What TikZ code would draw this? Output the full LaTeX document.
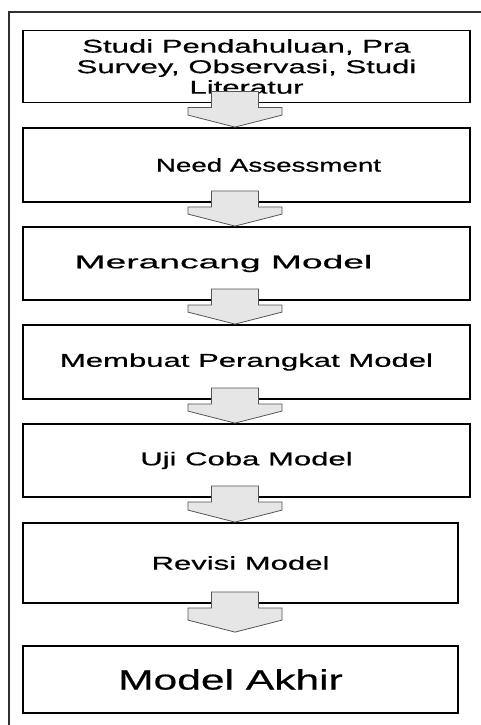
\documentclass[tikz,border=0pt]{standalone}
\usepackage{fontspec}
\usetikzlibrary{calc}
\newfontfamily\boxfont[FakeStretch=1.68,FakeBold=0.6]{Liberation Sans}
\newfontfamily\needfont[FakeStretch=1.50,FakeBold=0.6]{Liberation Sans}
\newfontfamily\rancfont[FakeStretch=2.01,FakeBold=0.6]{Liberation Sans}
\newfontfamily\akhirfont[FakeStretch=1.52,FakeBold=0.6]{Liberation Sans}
\definecolor{arrowfill}{HTML}{E6E6E6}
\definecolor{arrowline}{HTML}{555555}
\definecolor{framecol}{HTML}{303030}
% block arrow below one box, tip towards the next
\newcommand{\blockarrow}[3][0]{%
\coordinate (p) at (#2.south -| ax);
\coordinate (q) at ($(#3.north -| ax)+(0,-#1)$);
\filldraw[flow] ($(p)+(-23.5,-12)$) -- ($(p)+(23.5,-12)$) -- ($(p)+(23.5,4)$) -- ($(p)+(47,4)$)
  -- ($(q)+(47,-12)$) -- (q) -- ($(q)+(-47,-12)$) -- ($(p)+(-47,4)$) -- ($(p)+(-23.5,4)$) -- cycle;}

\begin{document}
\begin{tikzpicture}[x=1pt,y=-1pt]
\tikzstyle{stepbox}=[draw, line width=1.8pt, align=center, inner sep=2pt, font=\boxfont\fontsize{18.5}{20.5}\selectfont]
\tikzstyle{flow}=[fill=arrowfill, draw=arrowline, line width=0.8pt, line join=miter]
\useasboundingbox (0,0) rectangle (481,725);
\clip (0,0) rectangle (481,725);
\fill[white] (0,0) rectangle (481,725);
\draw[framecol, line width=1.5pt] (9,12) rectangle (495,740);
\coordinate (ax) at (235,0);
\node (s1) [stepbox, minimum width=447pt, minimum height=72pt] at (246.5,66.5) {Studi Pendahuluan, Pra\\Survey, Observasi, Studi\\Literatur};
\node (s2) [stepbox, minimum width=447pt, minimum height=74pt, font=\needfont\fontsize{18.5}{20.5}\selectfont] at (246.5,165) {\hspace*{44pt}Need Assessment};
\node (s3) [stepbox, minimum width=447pt, minimum height=73pt, font=\rancfont\fontsize{18.5}{20.5}\selectfont] at (246.5,263.5) {Merancang Model\hspace*{46pt}};
\node (s4) [stepbox, minimum width=447pt, minimum height=74pt] at (246.5,362) {Membuat Perangkat Model};
\node (s5) [stepbox, minimum width=447pt, minimum height=73pt] at (246.5,460.5) {Uji Coba Model};
\node (s6) [stepbox, minimum width=435pt, minimum height=80pt] at (240.5,563) {Revisi Model};
\node (s7) [stepbox, minimum width=435pt, minimum height=67pt, font=\akhirfont\fontsize{28}{32}\selectfont] at (240.5,679.5) {Model Akhir\hspace*{20pt}};
\blockarrow{s1}{s2}
\blockarrow{s2}{s3}
\blockarrow{s3}{s4}
\blockarrow{s4}{s5}
\blockarrow{s5}{s6}
\blockarrow[13]{s6}{s7}
\end{tikzpicture}
\end{document}
